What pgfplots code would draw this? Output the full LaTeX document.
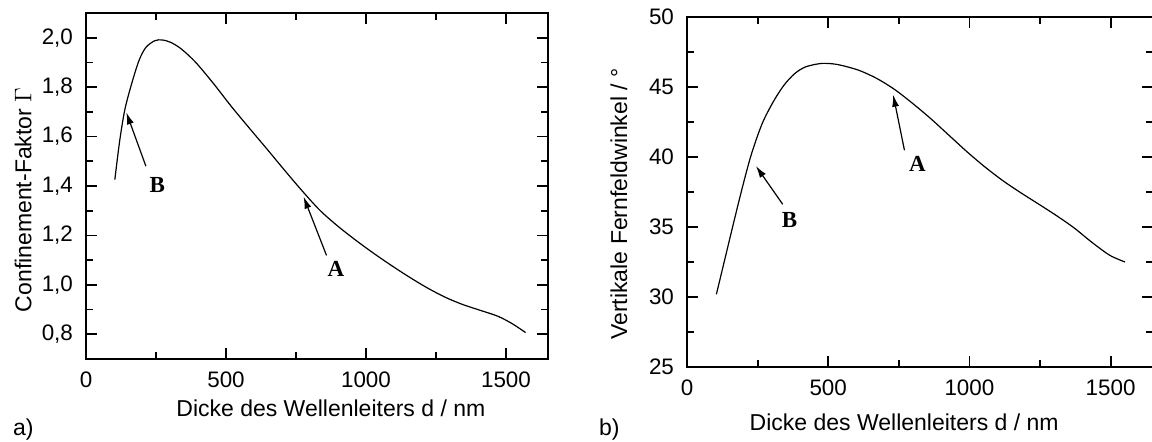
\documentclass[border=0pt]{standalone}
\usepackage{pgfplots}
\usepackage{pgfplotstable}
\pgfplotsset{compat=1.18}
\usepackage{fontspec}
\setmainfont{Liberation Sans}
\newfontfamily\serifbf{Liberation Serif}
\usetikzlibrary{arrows.meta}

\pgfplotstableread{
d v
103 1.426
120 1.58
138 1.705
161 1.806
189 1.907
214 1.961
246 1.988
272 1.991
303 1.981
341 1.954
392 1.900
455 1.815
519 1.722
582 1.636
646 1.550
709 1.464
773 1.379
836 1.301
900 1.237
963 1.181
1027 1.128
1090 1.079
1154 1.032
1217 0.989
1281 0.951
1344 0.921
1408 0.897
1471 0.873
1522 0.843
1570 0.807
}\tablea

\pgfplotstableread{
d v
104 30.19
133 32.62
165 35.30
197 37.90
228 40.20
266 42.38
305 43.93
343 45.12
381 45.95
419 46.43
470 46.67
508 46.67
546 46.55
609 46.19
673 45.60
736 44.81
800 43.81
863 42.74
926 41.58
990 40.40
1053 39.32
1117 38.33
1180 37.47
1244 36.65
1307 35.83
1371 34.93
1434 33.90
1497 32.98
1551 32.50
}\tableb

\begin{document}
\begin{tikzpicture}
\path[use as bounding box] (0,0) rectangle (576pt,220.5pt);
\pgfplotsset{
  common/.style={
    scale only axis,
    anchor=south west,
    axis line style={line width=1pt},
    tick style={line width=0.9pt, black},
    major tick length=5.5pt,
    minor tick length=3.5pt,
    font=\fontsize{11.5}{13}\selectfont,
    tick label style={font=\fontsize{11.2}{13}\selectfont},
    /pgf/number format/assume math mode=true,
    /pgf/number format/1000 sep={},
    xmin=0, xmax=1650,
    xtick={0,500,1000,1500},
    minor xtick={250,750,1250},
    xticklabel style={yshift=-3pt},
    yticklabel style={xshift=-3pt},
    scaled ticks=false,
    clip=false,
  },
}
% panel a
\begin{axis}[common,
  at={(43pt,41pt)}, width=231pt, height=173pt,
  ymin=0.7, ymax=2.1,
  ytick={0.8,1.0,1.2,1.4,1.6,1.8,2.0},
  minor ytick={0.9,1.1,1.3,1.5,1.7,1.9},
  yticklabel style={/pgf/number format/.cd, fixed, fixed zerofill, precision=1, use comma},
  xlabel={Dicke des Wellenleiters d / nm},
  xlabel style={at={(axis description cs:0.53,-0.142)}, anchor=center},
  ylabel={Confinement-Faktor $\Gamma$},
  ylabel style={at={(axis description cs:-0.136,0.46)}, anchor=center},
]
\addplot[black, line width=0.6pt, smooth] table[x=d, y=v] {\tablea};
\draw[line width=0.6pt, -{Latex[length=6pt,width=3.5pt]}] (axis cs:859,1.119) -- (axis cs:777,1.357);
\draw[line width=0.6pt, -{Latex[length=6pt,width=3.5pt]}] (axis cs:214,1.480) -- (axis cs:144,1.698);
\node[font=\serifbf\bfseries\fontsize{11.5}{13}\selectfont] at (axis cs:893,1.065) {A};
\node[font=\serifbf\bfseries\fontsize{11.5}{13}\selectfont] at (axis cs:255,1.405) {B};
\end{axis}
% panel b
\begin{axis}[common,
  at={(343.5pt,37pt)}, width=233pt, height=175pt,
  ymin=25, ymax=50,
  ytick={25,30,35,40,45,50},
  minor ytick={27.5,32.5,37.5,42.5,47.5},
  xlabel={Dicke des Wellenleiters d / nm},
  xlabel style={at={(axis description cs:0.466,-0.157)}, anchor=center},
  ylabel={Vertikale Fernfeldwinkel / °},
  ylabel style={at={(axis description cs:-0.146,0.466)}, anchor=center},
]
\addplot[black, line width=0.6pt, smooth] table[x=d, y=v] {\tableb};
\draw[line width=0.6pt, -{Latex[length=6pt,width=3.5pt]}] (axis cs:770,40.48) -- (axis cs:730,44.45);
\draw[line width=0.6pt, -{Latex[length=6pt,width=3.5pt]}] (axis cs:339,36.62) -- (axis cs:244,39.36);
\node[font=\serifbf\bfseries\fontsize{11.5}{13}\selectfont] at (axis cs:816,39.52) {A};
\node[font=\serifbf\bfseries\fontsize{11.5}{13}\selectfont] at (axis cs:363,35.48) {B};
\end{axis}
\node[anchor=west, font=\fontsize{11.5}{13}\selectfont] at (3pt,5.5pt) {a)};
\node[anchor=west, font=\fontsize{11.5}{13}\selectfont] at (296pt,5.5pt) {b)};
\end{tikzpicture}
\end{document}
